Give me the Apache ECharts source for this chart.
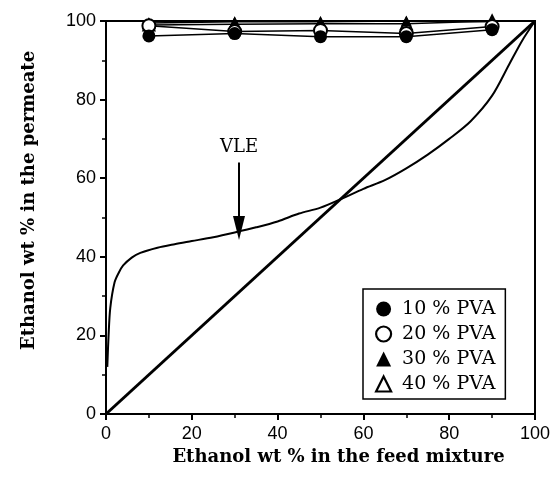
<!DOCTYPE html>
<html>
<head>
<meta charset="utf-8">
<script src="https://cdn.jsdelivr.net/npm/echarts@6/dist/echarts.min.js"></script>
<style>
  body { margin: 0; background: #fff; }
  #chart { width: 560px; height: 487px; }
</style>
</head>
<body>
<div id="chart"></div>
<script>
// feed composition of the membrane runs
const feed = [10, 30, 50, 70, 90]
const pva10 = [96.2, 96.8, 96.0, 96.0, 97.8]
const pva20 = [98.8, 97.3, 97.6, 96.8, 98.6]
const pva30 = [99.5, 99.8, 99.8, 100, 99.8]
const pva40 = [99.0, 99.2, 99.3, 99.3, 100]
const seriesNames = ['10 % PVA', '20 % PVA', '30 % PVA', '40 % PVA']

// vapour-liquid equilibrium curve (feed x, vapour y)
const vleX = [0.3, 0.6, 1, 2, 3, 4, 6, 8, 12, 16, 20, 25, 30, 35, 40, 45, 50, 55, 60, 65, 70, 75, 80, 85, 90, 94, 97, 100]
const vleY = [12, 20, 27, 33.5, 36, 37.8, 39.8, 41, 42.3, 43.2, 44, 45, 46.2, 47.5, 49, 51, 52.5, 54.8, 57.3, 59.5, 62.5, 66, 70, 74.5, 81, 89, 95, 100]

// y = x reference line
const diagX = [0, 100]
const diagY = [0, 100]

const axisTicks = [0, 20, 40, 60, 80, 100]

function pairs (xs, ys) {
  return xs.map((x, i) => [x, ys[i]])
}

const serifFont = 'DejaVu Serif'
const chart = echarts.init(document.getElementById('chart'))

function pvaSeries (name, values, symbol, filled, z) {
  return {
    name: name,
    type: 'line',
    data: pairs(feed, values),
    symbol: symbol,
    symbolSize: symbol === 'circle' ? 13 : 11,
    showAllSymbol: true,
    clip: false,
    z: z,
    lineStyle: { color: '#000', width: 1.5 },
    itemStyle: {
      color: filled ? '#000' : '#fff',
      borderColor: '#000',
      borderWidth: filled ? 0 : 2
    }
  }
}

const option = {
  animation: false,
  backgroundColor: '#fff',
  grid: {
    left: 106,
    right: 25,
    top: 21,
    bottom: 73,
    show: true,
    borderColor: '#000',
    borderWidth: 2
  },
  legend: {
    orient: 'vertical',
    left: 363,
    top: 289,
    padding: [10, 10, 5, 12],
    backgroundColor: '#fff',
    borderColor: '#000',
    borderWidth: 1.5,
    borderRadius: 0,
    itemWidth: 15,
    itemHeight: 15,
    itemGap: 5,
    textStyle: {
      fontFamily: serifFont,
      fontSize: 19,
      color: '#000',
      lineHeight: 20,
      padding: [0, 0, 0, 6]
    },
    data: [
      { name: seriesNames[0], icon: 'circle', itemStyle: { color: '#000', borderWidth: 0 } },
      { name: seriesNames[1], icon: 'circle', itemStyle: { color: '#fff', borderColor: '#000', borderWidth: 2.2 } },
      { name: seriesNames[2], icon: 'triangle', itemStyle: { color: '#000', borderWidth: 0 } },
      { name: seriesNames[3], icon: 'triangle', itemStyle: { color: '#fff', borderColor: '#000', borderWidth: 2.2 } }
    ]
  },
  xAxis: {
    type: 'value',
    min: 0,
    max: 100,
    interval: 20,
    name: 'Ethanol wt % in the feed mixture',
    nameLocation: 'middle',
    nameGap: 33,
    nameTextStyle: {
      fontFamily: serifFont,
      fontWeight: 'bold',
      fontSize: 18,
      color: '#000',
      padding: [0, 0, 0, 36]
    },
    axisLine: { show: true, lineStyle: { color: '#000', width: 2 } },
    axisTick: { show: true, inside: false, length: 6, lineStyle: { color: '#000', width: 2 } },
    minorTick: { show: true, splitNumber: 2, length: 4, lineStyle: { color: '#000', width: 1.5 } },
    splitLine: { show: false },
    axisLabel: {
      margin: 11,
      fontFamily: 'Liberation Sans',
      fontSize: 18,
      color: '#000',
      formatter: (v) => axisTicks.includes(v) ? String(v) : ''
    }
  },
  yAxis: {
    type: 'value',
    min: 0,
    max: 100,
    interval: 20,
    name: 'Ethanol wt % in the permeate',
    nameLocation: 'middle',
    nameGap: 68,
    nameTextStyle: {
      fontFamily: serifFont,
      fontWeight: 'bold',
      fontSize: 18,
      color: '#000',
      padding: [0, 0, 0, 34]
    },
    axisLine: { show: true, lineStyle: { color: '#000', width: 2 } },
    axisTick: { show: true, inside: false, length: 6, lineStyle: { color: '#000', width: 2 } },
    minorTick: { show: true, splitNumber: 2, length: 4, lineStyle: { color: '#000', width: 1.5 } },
    splitLine: { show: false },
    axisLabel: {
      margin: 10,
      fontFamily: 'Liberation Sans',
      fontSize: 18,
      color: '#000'
    }
  },
  series: [
    {
      name: 'VLE',
      type: 'line',
      data: pairs(vleX, vleY),
      smooth: 0.3,
      symbol: 'none',
      lineStyle: { color: '#000', width: 2 },
      markLine: {
        silent: true,
        symbol: ['none', 'triangle'],
        symbolSize: [12, 24],
        lineStyle: { color: '#000', width: 2, type: 'solid' },
        label: {
          show: true,
          position: 'start',
          distance: 6,
          formatter: 'VLE',
          fontFamily: serifFont,
          fontSize: 18,
          color: '#000'
        },
        data: [
          [{ coord: [31, 64] }, { coord: [31, 47.3] }]
        ]
      }
    },
    {
      name: 'y = x',
      type: 'line',
      data: pairs(diagX, diagY),
      symbol: 'none',
      lineStyle: { color: '#000', width: 3 }
    },
    pvaSeries(seriesNames[3], pva40, 'triangle', false, 3),
    pvaSeries(seriesNames[2], pva30, 'triangle', true, 4),
    pvaSeries(seriesNames[1], pva20, 'circle', false, 5),
    pvaSeries(seriesNames[0], pva10, 'circle', true, 6)
  ]
}

chart.setOption(option)
</script>
</body>
</html>
